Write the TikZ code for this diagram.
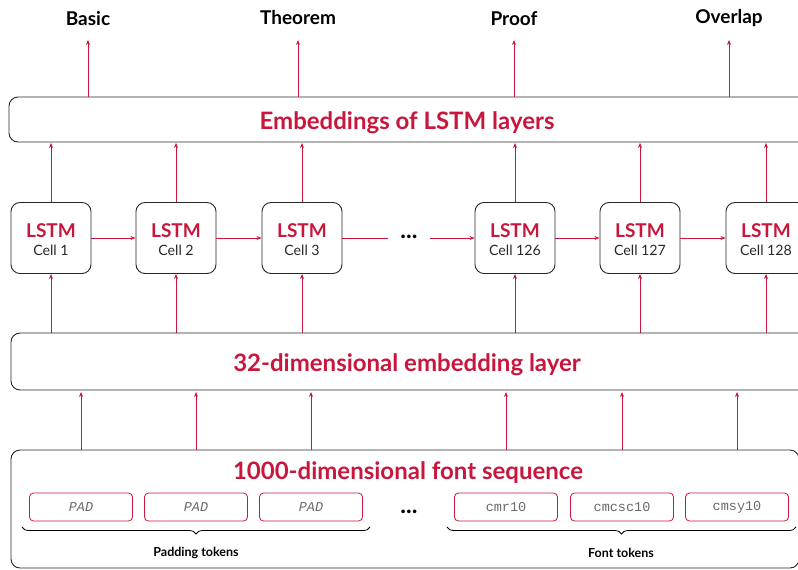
\documentclass[tikz,border=0pt]{standalone}
\usepackage{fontspec}
\setmainfont{Lato}
\setmonofont{Liberation Mono}
\usetikzlibrary{arrows.meta,decorations.pathreplacing,calc}
\definecolor{crim}{RGB}{200,22,60}
\definecolor{dgray}{RGB}{40,40,40}
\tikzset{
  arr/.style={draw=crim,line width=0.9pt,-{Stealth[length=5pt,width=4pt]}},
  bigbox/.style={draw=dgray,line width=0.9pt,rounded corners=9pt},
  cellbox/.style={draw=dgray,line width=0.9pt,rounded corners=9pt,minimum width=80pt,minimum height=71pt,inner sep=0pt,align=center},
  tokbox/.style={draw=crim,line width=0.8pt,rounded corners=4pt,minimum width=103pt,minimum height=28pt,inner sep=0pt,font=\ttfamily\fontsize{13.5}{15}\selectfont,text=dgray!70},
  toplab/.style={font=\bfseries\fontsize{19}{21}\selectfont,text=black},
  title/.style={font=\bfseries\fontsize{24}{27}\selectfont,text=crim},
  bracelab/.style={font=\bfseries\fontsize{12.5}{14}\selectfont,text=black},
  dotlab/.style={font=\bfseries\fontsize{24}{26}\selectfont,text=black},
  brc/.style={draw=black,line width=0.8pt,decorate,decoration={brace,mirror,amplitude=7pt}}
}
\begin{document}
\begin{tikzpicture}[x=1pt,y=-1pt]
\useasboundingbox (0,0) rectangle (798,570);
% top labels
\node[toplab] (l1) at (88,19) {Basic};
\node[toplab] (l2) at (298,18) {Theorem};
\node[toplab] (l3) at (514,19) {Proof};
\node[toplab] (l4) at (729,18) {Overlap};
% embeddings box
\draw[bigbox] (9,97) rectangle (812,142);
\node[title] (embt) at (407,123) {Embeddings of LSTM layers};
\coordinate (e1) at (88,97); \coordinate (e2) at (298,97);
\coordinate (e3) at (514,97); \coordinate (e4) at (729,97);
\coordinate (t1) at (88,40); \coordinate (t2) at (298,40);
\coordinate (t3) at (514,40); \coordinate (t4) at (729,40);
\foreach \i in {1,...,4} \draw[arr] (e\i) -- (t\i);
% LSTM cells
\foreach \n/\x/\lab in {c1/51/1,c2/176/2,c3/302/3,c4/515/126,c5/640/127,c6/766/128}{
  \node[cellbox] (\n) at (\x,238) {};
  \node[font=\bfseries\fontsize{19}{21}\selectfont,text=crim] (\n t) at (\x,231) {LSTM};
  \node[font=\fontsize{14.2}{16}\selectfont,text=dgray] (\n s) at (\x,250) {Cell \lab};
  \coordinate (\n up) at (\x,143);
  \coordinate (\n lo) at (\x,333);
  \draw[arr] (\n.north) -- (\n up);
  \draw[arr] (\n lo) -- (\n.south);
}
\draw[arr] (c1.east) -- (c2.west);
\draw[arr] (c2.east) -- (c3.west);
\coordinate (d1) at (388,238);
\draw[draw=crim,line width=0.9pt] (c3.east) -- (d1);
\node[dotlab] (dots1) at (409,237) {...};
\coordinate (d2) at (430,238);
\draw[arr] (d2) -- (c4.west);
\draw[arr] (c4.east) -- (c5.west);
\draw[arr] (c5.east) -- (c6.west);
% 32-dim box
\draw[bigbox] (11,333) rectangle (812,390);
\node[title] (emb32) at (407,365) {32-dimensional embedding layer};
% font sequence box
\draw[bigbox] (11,450) rectangle (799,568);
\node[title] (fst) at (408,473) {1000-dimensional font sequence};
\foreach \n/\x/\lab in {p1/81/PAD,p2/196/PAD,p3/311/PAD}{
  \node[tokbox] (\n) at (\x,507) {\itshape \lab};
  \coordinate (\n top) at (\x,450);
  \coordinate (\n up) at (\x,392);
  \draw[arr] (\n top) -- (\n up);
}
\foreach \n/\x/\lab in {f1/506/cmr10,f2/622/cmcsc10,f3/737/cmsy10}{
  \node[tokbox] (\n) at (\x,507) {\lab};
  \coordinate (\n top) at (\x,450);
  \coordinate (\n up) at (\x,392);
  \draw[arr] (\n top) -- (\n up);
}
\node[dotlab] (dots2) at (409,512) {...};
% braces
\coordinate (b1a) at (22,527); \coordinate (b1b) at (370,527);
\coordinate (b2a) at (447,527); \coordinate (b2b) at (796,527);
\draw[brc] (b1a) -- (b1b);
\draw[brc] (b2a) -- (b2b);
\node[bracelab] (pl) at (196,553) {Padding tokens};
\node[bracelab] (fl) at (621,553) {Font tokens};
\end{tikzpicture}
\end{document}
